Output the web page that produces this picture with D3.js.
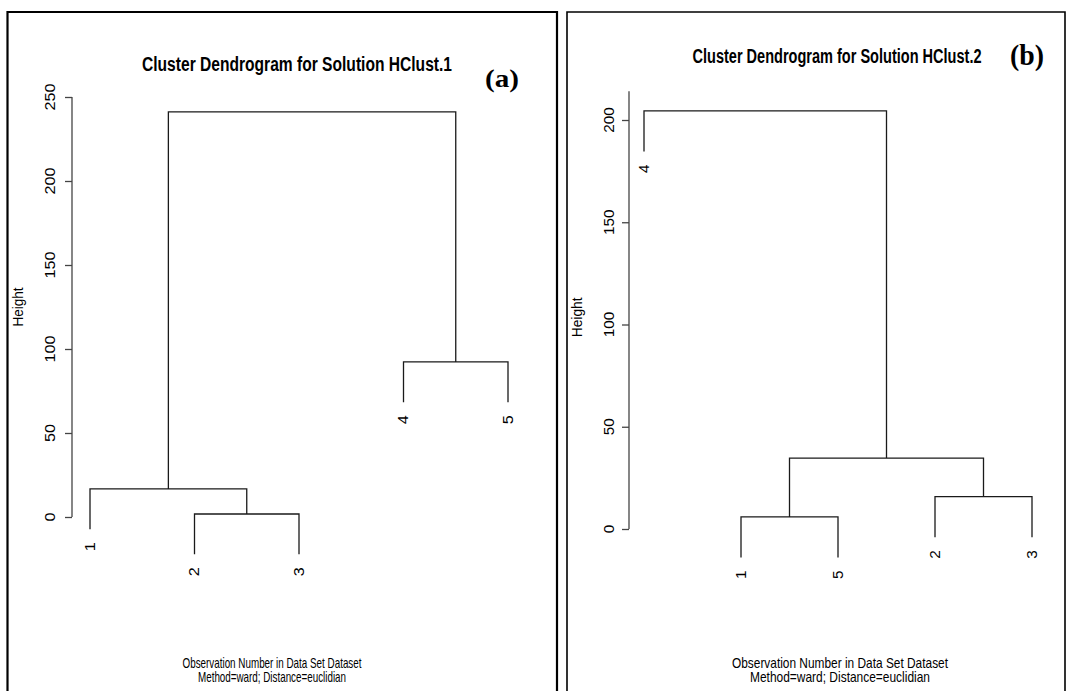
<!DOCTYPE html>
<html>
<head>
<meta charset="utf-8">
<script src="https://cdn.jsdelivr.net/npm/d3@7"></script>
<style>
body { margin: 0; background: #fff; }
text { font-family: "Liberation Sans", Arial, sans-serif; fill: #000; }
.tree path { fill: none; stroke: #1a1a1a; stroke-width: 1.3; }
.axis path, .axis line { stroke: #444; stroke-width: 1.3; }
.frame { fill: none; stroke: #000; }
</style>
</head>
<body>
<div class="chart"></div>
<script>
var width = 1068,
    height = 691;

// panel (a): leaf order, hclust style merge matrix and merge heights
var leavesA = ["1", "2", "3", "4", "5"];
var mergeA = [[-2, -3], [-1, 1], [-4, -5], [2, 3]];
var heightsA = [1.8, 16.7, 92.3, 241.2];
var ticksA = [0, 50, 100, 150, 200, 250];

// panel (b)
var leavesB = ["4", "1", "5", "2", "3"];
var mergeB = [[-1, -5], [-2, -3], [1, 2], [-4, 3]];
var heightsB = [5.9, 15.8, 34.7, 204.5];
var ticksB = [0, 50, 100, 150, 200];

var titleA = "Cluster Dendrogram for Solution HClust.1",
    titleB = "Cluster Dendrogram for Solution HClust.2";
var subLines = ["Observation Number in Data Set Dataset", "Method=ward; Distance=euclidian"];

var svg = d3.select(".chart").append("svg")
    .attr("width", width)
    .attr("height", height);

var panels = [
  {leaves: leavesA, merge: mergeA, heights: heightsA, ticks: ticksA, title: titleA, tag: "(a)",
   frame: [7.5, 12, 557], frameW: 2.2, xr: [90, 508], yr: [517, 97], axisTop: 250, axisX: 72,
   tickOff: 17, tickFont: 14, digit: 9, ylabX: 23, ylabFont: 14, ylabLen: 39, leafFont: 14, leafLen: 9,
   titleX: 297, titleY: 71, titleLen: 310, tagX: 485, tagY: 87, tagFont: 25,
   subX: 272, subLen: [179, 148]},
  {leaves: leavesB, merge: mergeB, heights: heightsB, ticks: ticksB, title: titleB, tag: "(b)",
   frame: [567, 12, 1065], frameW: 1.6, xr: [644, 1032], yr: [529, 120], axisTop: 214, axisX: 629,
   tickOff: 15, tickFont: 15, digit: 8.5, ylabX: 582, ylabFont: 15, ylabLen: 40, leafFont: 15, leafLen: 8.5,
   titleX: 837, titleY: 63, titleLen: 289, tagX: 1010, tagY: 65, tagFont: 30,
   subX: 840, subLen: [216, 180]}
];

panels.forEach(function(p) {
  var g = svg.append("g");

  // frame: left, top and right edges, open at the bottom
  g.append("path")
      .attr("class", "frame")
      .attr("stroke-width", p.frameW)
      .attr("d", "M" + p.frame[0] + "," + height + "V" + p.frame[1] + "H" + p.frame[2] + "V" + height);

  var x = d3.scalePoint().domain(p.leaves).range(p.xr);
  var y = d3.scaleLinear().domain([0, p.ticks[p.ticks.length - 1]]).range(p.yr);

  // y axis
  var axis = g.append("g")
      .attr("class", "axis")
      .attr("transform", "translate(" + p.axisX + ",0)")
      .call(d3.axisLeft(y).tickValues(p.ticks).tickSize(7).tickSizeOuter(0).tickFormat(""));
  axis.select(".domain").attr("d", "M0," + y(0) + "V" + y(p.axisTop));

  g.selectAll(".tlab")
    .data(p.ticks)
    .enter().append("text")
      .attr("class", "tlab")
      .attr("transform", function(d) { return "translate(" + (p.axisX - p.tickOff) + "," + y(d) + ") rotate(-90)"; })
      .attr("text-anchor", "middle")
      .attr("font-size", p.tickFont)
      .attr("textLength", function(d) { return String(d).length * p.digit; })
      .attr("lengthAdjust", "spacingAndGlyphs")
      .text(function(d) { return d; });

  g.append("text")
      .attr("transform", "translate(" + p.ylabX + "," + d3.mean(p.yr.concat([y(p.axisTop), y(0)])) + ") rotate(-90)")
      .attr("text-anchor", "middle")
      .attr("font-size", p.ylabFont)
      .attr("textLength", p.ylabLen)
      .attr("lengthAdjust", "spacingAndGlyphs")
      .text("Height");

  // dendrogram, built from the merge matrix
  var hang = 0.1 * (d3.max(p.heights) - d3.min(p.heights));
  var nodeX = [], links = [], leafEnds = [];
  function child(m, h) {
    if (m < 0) {
      var lab = String(-m);
      leafEnds.push({label: lab, h: h - hang});
      return {x: x(lab), h: h - hang};
    }
    return {x: nodeX[m - 1], h: p.heights[m - 1]};
  }
  p.merge.forEach(function(pair, i) {
    var h = p.heights[i];
    var a = child(pair[0], h), b = child(pair[1], h);
    links.push({a: a, b: b, h: h});
    nodeX[i] = (a.x + b.x) / 2;
  });

  g.append("g")
      .attr("class", "tree")
    .selectAll("path")
    .data(links)
    .enter().append("path")
      .attr("d", function(d) {
        return "M" + d.a.x + "," + y(d.a.h) + "V" + y(d.h) + "H" + d.b.x + "V" + y(d.b.h);
      });

  g.selectAll(".leaf")
    .data(leafEnds)
    .enter().append("text")
      .attr("class", "leaf")
      .attr("transform", function(d) { return "translate(" + x(d.label) + "," + (y(d.h) + 13) + ") rotate(-90)"; })
      .attr("text-anchor", "end")
      .attr("dy", "0.35em")
      .attr("font-size", p.leafFont)
      .attr("textLength", p.leafLen)
      .attr("lengthAdjust", "spacingAndGlyphs")
      .text(function(d) { return d.label; });

  // titles and notes
  g.append("text")
      .attr("x", p.titleX)
      .attr("y", p.titleY)
      .attr("text-anchor", "middle")
      .attr("font-size", 20)
      .attr("font-weight", "bold")
      .attr("textLength", p.titleLen)
      .attr("lengthAdjust", "spacingAndGlyphs")
      .text(p.title);

  g.append("text")
      .attr("x", p.tagX)
      .attr("y", p.tagY)
      .attr("font-size", p.tagFont)
      .attr("font-weight", "bold")
      .style("font-family", "'Liberation Serif', 'Times New Roman', serif")
      .attr("textLength", 34)
      .attr("lengthAdjust", "spacingAndGlyphs")
      .text(p.tag);

  g.selectAll(".sub")
    .data(subLines)
    .enter().append("text")
      .attr("class", "sub")
      .attr("x", p.subX)
      .attr("y", function(d, i) { return 668 + i * 14; })
      .attr("text-anchor", "middle")
      .attr("font-size", 15)
      .attr("textLength", function(d, i) { return p.subLen[i]; })
      .attr("lengthAdjust", "spacingAndGlyphs")
      .text(function(d) { return d; });
});
</script>
</body>
</html>
